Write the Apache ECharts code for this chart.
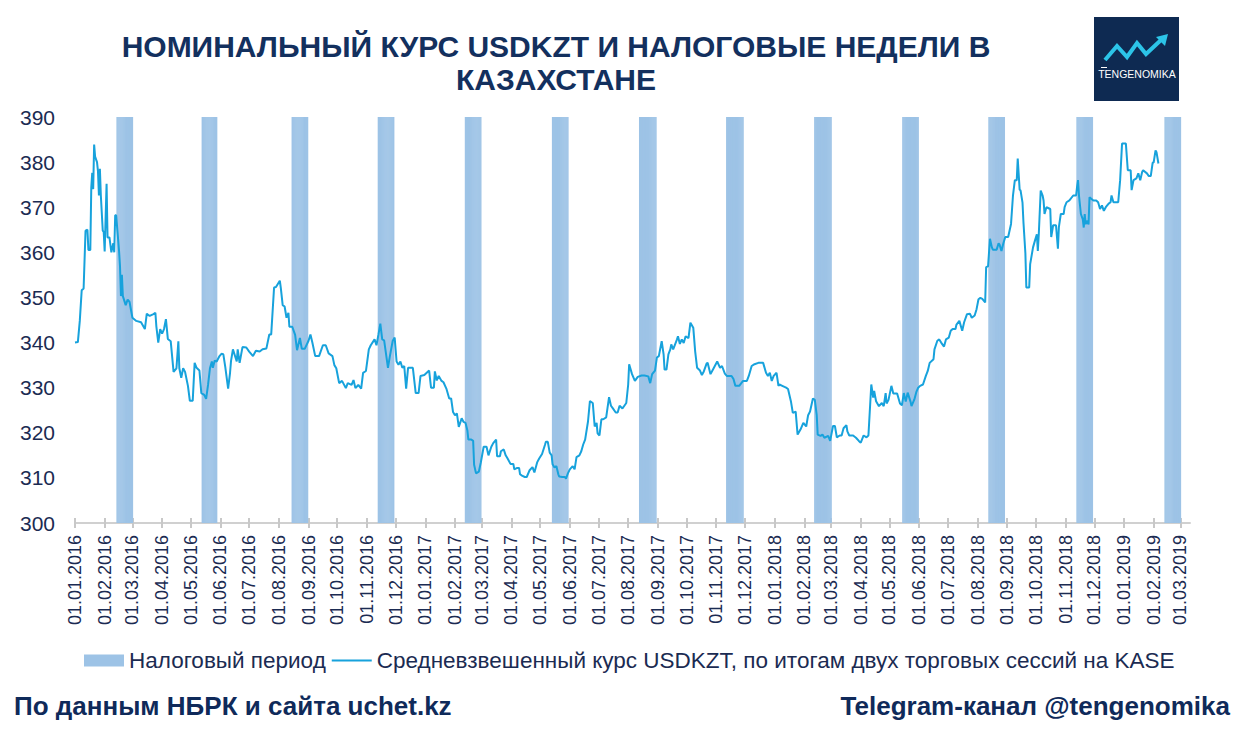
<!DOCTYPE html>
<html><head><meta charset="utf-8">
<script src="https://cdn.jsdelivr.net/npm/echarts@6/dist/echarts.min.js"></script>
<style>html,body{margin:0;padding:0;background:#fff}#chart{width:1240px;height:729px}</style>
</head><body><div id="chart"></div>
<script>
// ---------- DATA ----------
const titleLines = ['НОМИНАЛЬНЫЙ КУРС USDKZT И НАЛОГОВЫЕ НЕДЕЛИ В', 'КАЗАХСТАНЕ'];
const sourceText = 'По данным НБРК и сайта uchet.kz';
const channelText = 'Telegram-канал @tengenomika';
const logoText = 'TENGENOMIKA';
const taxSeriesName = 'Налоговый период';
const rateSeriesName = 'Средневзвешенный курс USDKZT, по итогам двух торговых сессий на KASE';

const axisStart = '2016-01-01';
const axisEnd = '2019-03-11';
const yMin = 300, yMax = 390, yStep = 10;

const taxPeriodStarts = ['2016-02-14','2016-05-13','2016-08-15','2016-11-13',
  '2017-02-12','2017-05-14','2017-08-13','2017-11-12',
  '2018-02-12','2018-05-15','2018-08-13','2018-11-13','2019-02-13'];
const taxPeriodEnds = ['2016-03-01','2016-05-28','2016-08-31','2016-11-29',
  '2017-02-28','2017-05-30','2017-08-30','2017-11-29',
  '2018-03-01','2018-05-31','2018-08-29','2018-11-29','2019-03-01'];
const taxBarValue = 390;

const lineDates = [
'2016-01-01','2016-01-04','2016-01-06','2016-01-08','2016-01-10','2016-01-12','2016-01-14','2016-01-15','2016-01-17','2016-01-18',
'2016-01-19','2016-01-20','2016-01-21','2016-01-22','2016-01-24','2016-01-25','2016-01-26','2016-01-27','2016-01-28','2016-01-30',
'2016-01-31','2016-02-01','2016-02-03','2016-02-04','2016-02-06','2016-02-08','2016-02-10','2016-02-11','2016-02-12','2016-02-13',
'2016-02-16','2016-02-17','2016-02-18','2016-02-19','2016-02-20','2016-02-23','2016-02-25','2016-02-27','2016-03-01','2016-03-05',
'2016-03-10','2016-03-14','2016-03-16','2016-03-19','2016-03-23','2016-03-25','2016-03-26','2016-03-28','2016-03-30','2016-04-01',
'2016-04-03','2016-04-05','2016-04-07','2016-04-10','2016-04-13','2016-04-16','2016-04-18','2016-04-19','2016-04-21','2016-04-23',
'2016-04-25','2016-04-28','2016-04-30','2016-05-03','2016-05-05','2016-05-07','2016-05-10','2016-05-12','2016-05-15','2016-05-17',
'2016-05-19','2016-05-21','2016-05-23','2016-05-24','2016-05-26','2016-05-28','2016-05-31','2016-06-02','2016-06-04','2016-06-06',
'2016-06-09','2016-06-11','2016-06-12','2016-06-14','2016-06-18','2016-06-19','2016-06-21','2016-06-24','2016-06-28','2016-07-01',
'2016-07-05','2016-07-08','2016-07-12','2016-07-15','2016-07-19','2016-07-22','2016-07-24','2016-07-27','2016-07-29','2016-08-02',
'2016-08-03','2016-08-05','2016-08-07','2016-08-09','2016-08-11','2016-08-12','2016-08-15','2016-08-18','2016-08-20','2016-08-23',
'2016-08-25','2016-08-28','2016-09-01','2016-09-03','2016-09-05','2016-09-08','2016-09-12','2016-09-16','2016-09-19','2016-09-22',
'2016-09-26','2016-09-28','2016-09-30','2016-10-03','2016-10-06','2016-10-10','2016-10-12','2016-10-16','2016-10-18','2016-10-20',
'2016-10-23','2016-10-26','2016-10-28','2016-10-31','2016-11-03','2016-11-05','2016-11-09','2016-11-11','2016-11-13','2016-11-15',
'2016-11-17','2016-11-19','2016-11-23','2016-11-25','2016-11-28','2016-11-30','2016-12-02','2016-12-04','2016-12-06','2016-12-08',
'2016-12-10','2016-12-12','2016-12-14','2016-12-19','2016-12-22','2016-12-25','2016-12-27','2016-12-31',
'2017-01-05','2017-01-07','2017-01-10','2017-01-11','2017-01-13','2017-01-15','2017-01-18','2017-01-20','2017-01-23','2017-01-26',
'2017-01-28','2017-01-30','2017-02-01','2017-02-03','2017-02-05','2017-02-08','2017-02-10','2017-02-12','2017-02-14','2017-02-15',
'2017-02-18','2017-02-20','2017-02-21','2017-02-23','2017-02-26','2017-02-28','2017-03-03','2017-03-06','2017-03-08','2017-03-11',
'2017-03-13','2017-03-16','2017-03-17','2017-03-20','2017-03-21','2017-03-24','2017-03-26','2017-03-28','2017-03-31','2017-04-03',
'2017-04-04','2017-04-07','2017-04-09','2017-04-10','2017-04-12','2017-04-15','2017-04-17','2017-04-20','2017-04-23','2017-04-25',
'2017-04-28','2017-04-30','2017-05-03','2017-05-06','2017-05-07','2017-05-09','2017-05-11','2017-05-13','2017-05-14','2017-05-16',
'2017-05-18','2017-05-20','2017-05-21','2017-05-24','2017-05-27','2017-05-28','2017-05-30','2017-06-01','2017-06-04','2017-06-06',
'2017-06-08','2017-06-11','2017-06-13','2017-06-15','2017-06-17','2017-06-20','2017-06-22','2017-06-25','2017-06-27','2017-06-29',
'2017-06-30','2017-07-02','2017-07-04','2017-07-06','2017-07-09','2017-07-12','2017-07-14','2017-07-16','2017-07-19','2017-07-21',
'2017-07-23','2017-07-26','2017-07-28','2017-07-30','2017-08-01','2017-08-02','2017-08-05','2017-08-08','2017-08-11','2017-08-15',
'2017-08-18','2017-08-22','2017-08-24','2017-08-26','2017-08-29','2017-08-31','2017-09-02','2017-09-05','2017-09-07','2017-09-08',
'2017-09-10','2017-09-12','2017-09-14','2017-09-15','2017-09-17','2017-09-19','2017-09-21','2017-09-22','2017-09-24','2017-09-26',
'2017-09-28','2017-09-30','2017-10-03','2017-10-05','2017-10-08','2017-10-10','2017-10-12','2017-10-15','2017-10-17','2017-10-19',
'2017-10-22','2017-10-23','2017-10-26','2017-10-29','2017-11-02','2017-11-05','2017-11-07','2017-11-10','2017-11-12','2017-11-17',
'2017-11-19','2017-11-21','2017-11-25','2017-11-29','2017-12-03','2017-12-05','2017-12-08','2017-12-11','2017-12-15','2017-12-20',
'2017-12-23','2017-12-25','2017-12-27','2017-12-29','2017-12-31',
'2018-01-03','2018-01-05','2018-01-06','2018-01-09','2018-01-13','2018-01-15','2018-01-18','2018-01-20','2018-01-23','2018-01-25',
'2018-01-28','2018-01-31','2018-02-03','2018-02-05','2018-02-07','2018-02-10','2018-02-12','2018-02-14','2018-02-15','2018-02-18',
'2018-02-20','2018-02-22','2018-02-26','2018-02-28','2018-03-03','2018-03-05','2018-03-07','2018-03-10','2018-03-12','2018-03-14',
'2018-03-17','2018-03-18','2018-03-20','2018-03-24','2018-03-27','2018-03-30','2018-04-01','2018-04-04','2018-04-07','2018-04-09',
'2018-04-12','2018-04-14','2018-04-15','2018-04-17','2018-04-20','2018-04-23','2018-04-25','2018-04-27','2018-04-28','2018-04-30',
'2018-05-03','2018-05-05','2018-05-09','2018-05-12','2018-05-14','2018-05-16','2018-05-18','2018-05-20','2018-05-23','2018-05-24',
'2018-05-27','2018-05-29','2018-05-31','2018-06-02','2018-06-05','2018-06-08','2018-06-10','2018-06-12','2018-06-16','2018-06-17',
'2018-06-20','2018-06-22','2018-06-24','2018-06-27','2018-06-29','2018-07-02','2018-07-04','2018-07-06','2018-07-09','2018-07-10',
'2018-07-13','2018-07-16','2018-07-18','2018-07-21','2018-07-24','2018-07-26','2018-07-29','2018-07-31','2018-08-02','2018-08-04',
'2018-08-06','2018-08-09','2018-08-10','2018-08-12','2018-08-14','2018-08-16','2018-08-17','2018-08-21','2018-08-23','2018-08-24',
'2018-08-26','2018-08-28','2018-08-30','2018-09-02','2018-09-05','2018-09-07','2018-09-09','2018-09-11','2018-09-12','2018-09-14',
'2018-09-15','2018-09-17','2018-09-18','2018-09-20','2018-09-21','2018-09-24','2018-09-25','2018-09-28','2018-09-30','2018-10-02',
'2018-10-03','2018-10-04','2018-10-06','2018-10-08','2018-10-09','2018-10-10','2018-10-12','2018-10-16','2018-10-17','2018-10-19',
'2018-10-22','2018-10-24','2018-10-25','2018-10-27','2018-10-30','2018-10-31','2018-11-02','2018-11-05','2018-11-09','2018-11-12',
'2018-11-13','2018-11-14','2018-11-15','2018-11-17','2018-11-19','2018-11-20','2018-11-21','2018-11-22','2018-11-23','2018-11-25',
'2018-11-26','2018-11-30','2018-12-03','2018-12-05','2018-12-07','2018-12-09','2018-12-11','2018-12-13','2018-12-16','2018-12-18',
'2018-12-19','2018-12-21','2018-12-24','2018-12-26','2018-12-28','2018-12-30',
'2019-01-03','2019-01-05','2019-01-08','2019-01-09','2019-01-11','2019-01-14','2019-01-16','2019-01-18','2019-01-20','2019-01-21',
'2019-01-25','2019-01-27','2019-01-29','2019-01-31','2019-02-01','2019-02-03','2019-02-04','2019-02-06'
];
const lineValues = [
340.0,340.1,344.8,351.6,352.0,364.8,365.0,360.5,360.5,374.3,
377.6,374.0,383.9,381.2,380.0,378.0,372.6,378.5,372.6,364.8,
364.5,360.2,375.2,363.3,363.3,360.0,362.0,360.0,368.2,368.2,
360.4,357.0,350.3,355.0,350.3,348.3,349.5,349.0,345.5,344.8,
344.5,343.0,346.4,345.9,346.3,346.6,343.6,340.0,343.0,342.0,
343.0,345.2,340.8,340.3,333.5,334.3,340.3,334.3,332.2,334.3,
333.5,330.4,327.1,327.1,335.5,334.4,333.8,328.8,328.4,327.5,
330.6,334.3,335.8,334.4,336.0,335.8,337.0,337.5,337.4,334.6,
329.8,333.3,335.9,338.5,335.8,338.5,335.5,339.0,338.9,338.0,
337.0,338.2,338.0,338.5,338.7,341.8,341.8,352.2,352.3,353.7,
352.2,348.3,348.0,345.5,346.6,343.5,343.5,341.7,338.3,341.0,
338.6,338.6,340.4,341.8,340.0,337.0,337.0,339.4,339.4,337.6,
337.0,335.0,334.3,331.0,331.5,329.9,331.0,330.6,331.7,329.9,
330.6,329.8,333.3,333.7,338.5,339.4,340.7,339.4,341.7,344.2,
340.7,340.5,334.4,337.0,340.4,341.1,335.8,335.1,335.8,334.4,
334.8,329.8,334.4,334.4,328.8,328.8,332.6,332.8,
333.8,330.0,330.0,333.6,331.6,332.6,331.5,331.2,329.8,327.6,
327.6,324.6,323.9,324.3,321.3,323.2,322.4,322.2,320.5,318.5,
318.5,318.2,312.9,311.0,311.4,313.4,316.9,316.9,315.0,316.9,
317.7,318.5,314.8,314.8,315.9,316.3,315.0,314.3,313.1,313.1,
311.9,312.2,312.2,310.8,310.5,310.2,310.2,311.7,312.4,311.2,
313.5,314.3,315.3,317.3,318.0,318.0,315.6,315.0,313.0,312.3,
312.6,310.8,310.3,310.2,310.2,309.8,311.0,311.9,312.6,311.9,
314.6,315.0,315.9,317.4,318.5,322.5,327.0,326.6,321.4,322.2,
319.9,319.4,323.0,323.0,323.4,327.9,326.0,325.4,324.5,324.5,
326.0,325.4,326.0,326.6,330.7,335.2,333.0,331.5,332.4,332.7,
332.7,332.5,331.0,333.0,333.8,336.7,337.0,340.3,337.4,334.0,
334.0,337.4,338.5,339.6,338.5,339.6,340.7,341.4,339.7,340.7,
339.9,341.4,341.0,344.4,343.3,338.0,334.4,333.8,332.8,333.6,
335.4,335.5,333.0,334.2,335.8,334.4,334.8,333.1,332.6,332.6,
331.9,330.4,330.4,331.5,331.5,332.6,334.8,335.2,335.5,335.5,
333.3,332.6,333.3,331.5,332.6,
333.3,330.4,330.7,330.4,330.0,329.7,327.0,324.4,324.7,319.6,
320.7,322.2,321.4,323.9,324.7,327.6,327.3,323.9,319.6,319.3,
319.6,318.9,319.3,318.2,321.5,321.5,319.0,319.4,319.4,321.0,
321.7,320.3,319.4,319.4,318.9,318.2,317.8,319.4,319.0,319.4,
330.7,327.8,329.3,327.0,325.9,326.6,325.9,328.8,326.5,327.3,
330.4,328.7,328.7,326.5,326.1,328.8,326.9,328.9,326.9,325.9,
327.4,329.0,330.0,330.4,330.7,332.6,333.7,335.5,336.3,338.5,
340.4,340.7,340.0,339.1,340.7,341.1,342.6,343.0,343.0,344.0,
344.8,342.6,344.5,346.3,346.4,345.5,346.0,347.4,349.6,349.9,
349.7,348.9,356.7,356.9,363.0,361.1,360.6,360.6,362.0,361.7,
360.3,362.0,363.4,363.4,366.3,372.5,376.0,376.0,380.8,373.9,
373.7,371.0,366.6,359.8,352.2,352.2,357.4,361.1,362.6,364.0,
360.3,364.0,373.7,372.6,371.5,368.5,370.0,369.6,363.4,366.0,
366.0,360.8,365.6,368.5,368.5,370.0,371.1,371.5,372.6,372.6,
374.5,376.0,372.6,368.5,367.3,365.5,368.5,366.2,367.0,366.2,
372.2,371.5,371.5,371.1,369.6,370.4,369.2,370.0,370.8,371.1,
372.6,371.1,371.1,371.1,376.0,384.1,
384.1,378.2,378.2,373.8,376.0,376.4,377.5,376.0,377.8,378.2,
377.5,376.9,376.9,379.9,379.9,382.6,382.2,379.7
];

// ---------- BUILD ----------
const DAY = 86400000;
const categories = [];
for (let t = Date.parse(axisStart + 'T00:00:00Z'); t <= Date.parse(axisEnd + 'T00:00:00Z'); t += DAY) {
  categories.push(new Date(t).toISOString().slice(0, 10));
}
const rateMap = {};
lineDates.forEach((d, i) => { rateMap[d] = lineValues[i]; });
const rateData = categories.map(d => (d in rateMap ? rateMap[d] : null));
const taxData = categories.map(d =>
  taxPeriodStarts.some((s, i) => d >= s && d <= taxPeriodEnds[i]) ? taxBarValue : null);

const isMonthStart = (idx, val) => String(val).slice(8, 10) === '01';
const fmtLabel = v => v.slice(8, 10) + '.' + v.slice(5, 7) + '.' + v.slice(0, 4);

const NAVY = '#1B2B52';
const LINE_COLOR = '#17A2DC';
const FONT = '"Liberation Sans", Arial, sans-serif';

const chart = echarts.init(document.getElementById('chart'), null, { renderer: 'svg' });
chart.setOption({
  animation: false,
  backgroundColor: '#ffffff',
  textStyle: { fontFamily: FONT },
  grid: { left: 75, right: 50, top: 117, bottom: 206, containLabel: false, outerBoundsMode: 'none' },
  legend: {
    left: 79, top: 644,
    itemWidth: 40, itemHeight: 12, itemGap: 6,
    symbolKeepAspect: true,
    textStyle: { fontSize: 22.5, color: NAVY, fontFamily: FONT },
    data: [
      { name: taxSeriesName, icon: 'rect' },
      { name: rateSeriesName, icon: 'path://M0 0H40V2.2H0Z', itemStyle: { color: LINE_COLOR } }
    ]
  },
  xAxis: [{
    type: 'category', data: categories, boundaryGap: false,
    axisLine: { show: true, lineStyle: { color: '#D0D0D0', width: 2 } },
    axisTick: { show: true, interval: isMonthStart, length: 5, lineStyle: { color: '#C8C8C8', width: 2 } },
    axisLabel: { show: true, interval: isMonthStart, rotate: 90, margin: 12, fontSize: 18, color: NAVY, fontFamily: FONT, formatter: fmtLabel },
    splitLine: { show: false }
  }, {
    type: 'category', data: categories, boundaryGap: false, position: 'bottom', gridIndex: 0,
    axisLine: { show: false },
    axisTick: { show: true, inside: true, interval: isMonthStart, length: 5, lineStyle: { color: '#C8C8C8', width: 2 } },
    axisLabel: { show: false }, splitLine: { show: false }
  }],
  yAxis: {
    type: 'value', min: yMin, max: yMax, interval: yStep,
    axisLine: { show: false }, axisTick: { show: false }, splitLine: { show: false },
    axisLabel: { fontSize: 21, color: NAVY, margin: 20, fontFamily: FONT }
  },
  series: [{
    name: taxSeriesName, type: 'bar', data: taxData, xAxisIndex: 0,
    barWidth: 1.4, itemStyle: { color: '#9DC3E6' }, silent: true, clip: true
  }, {
    name: rateSeriesName, type: 'line', data: rateData, xAxisIndex: 0,
    connectNulls: true, symbol: 'none', showSymbol: false,
    lineStyle: { color: LINE_COLOR, width: 2 }, itemStyle: { color: LINE_COLOR }, z: 5
  }],
  graphic: [
    { type: 'text', x: 556, y: 30, style: { text: titleLines.join('\n'), textAlign: 'center', textVerticalAlign: 'top', lineHeight: 33, fill: '#13305E', font: 'bold 30px ' + FONT } },
    { type: 'text', x: 14, y: 706, style: { text: sourceText, textAlign: 'left', textVerticalAlign: 'middle', fill: '#0F2A5A', font: 'bold 26px ' + FONT } },
    { type: 'text', x: 1230, y: 706, style: { text: channelText, textAlign: 'right', textVerticalAlign: 'middle', fill: '#0F2A5A', font: 'bold 26px ' + FONT } },
    { type: 'rect', shape: { x: 1094, y: 17, width: 85, height: 84 }, style: { fill: '#0E2A52' } },
    { type: 'polyline', shape: { points: [[1105, 60], [1117, 46], [1127, 57], [1137, 43], [1146, 54], [1161, 40]] }, style: { stroke: '#2CC4E8', lineWidth: 4, fill: null, lineJoin: 'miter' } },
    { type: 'polygon', shape: { points: [[1168, 34], [1156, 37], [1165, 46]] }, style: { fill: '#2CC4E8' } },
    { type: 'text', x: 1137, y: 74, style: { text: logoText, textAlign: 'center', textVerticalAlign: 'middle', fill: '#FFFFFF', font: '10.5px ' + FONT } },
    { type: 'line', shape: { x1: 1101, y1: 67.5, x2: 1107, y2: 67.5 }, style: { stroke: '#FFFFFF', lineWidth: 1 } }
  ]
});
</script>
</body></html>
